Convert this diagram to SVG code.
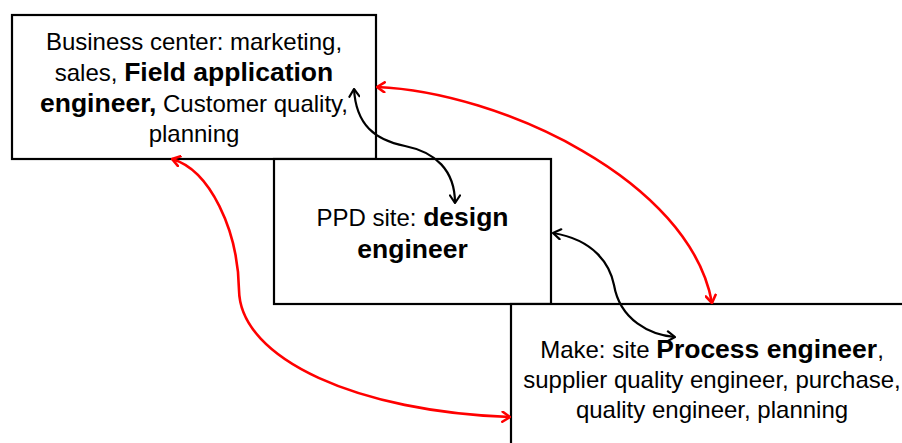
<svg xmlns="http://www.w3.org/2000/svg" width="902" height="443" viewBox="0 0 902 443">
  <style>
    .box { fill: #ffffff; stroke: #000000; stroke-width: 2.2; }
    .label { font-family: "Liberation Sans", Arial, sans-serif; font-size: 24px; fill: #000000; text-anchor: middle; }
    .b { font-weight: bold; font-size: 26.5px; }
    .link { fill: none; }
    .black { stroke: #000000; stroke-width: 2.2; marker-start: url(#headK); marker-end: url(#headK); }
    .red { stroke: #ff0000; stroke-width: 2.6; marker-start: url(#headR); marker-end: url(#headR); }
  </style>
  <defs>
    <marker id="headK" viewBox="0 0 10 12" refX="9" refY="6" markerWidth="10" markerHeight="12" markerUnits="userSpaceOnUse" orient="auto-start-reverse">
      <path d="M1.5,1 L9,6 L1.5,11" fill="none" stroke="#000000" stroke-width="2.2" stroke-linecap="round" stroke-linejoin="round"/>
    </marker>
    <marker id="headR" viewBox="0 0 10 12" refX="9" refY="6" markerWidth="10" markerHeight="12" markerUnits="userSpaceOnUse" orient="auto-start-reverse">
      <path d="M1.5,1 L9,6 L1.5,11" fill="none" stroke="#ff0000" stroke-width="2.6" stroke-linecap="round" stroke-linejoin="round"/>
    </marker>
  </defs>

  <!-- Business center -->
  <g id="business-center">
    <rect class="box" x="12" y="15" width="364" height="144"/>
    <text class="label"><tspan x="194" y="50">Business center: marketing,</tspan><tspan x="194" y="81">sales, <tspan class="b">Field application</tspan></tspan><tspan x="194" y="112"><tspan class="b">engineer,</tspan> Customer quality,</tspan><tspan x="194" y="142">planning</tspan></text>
  </g>

  <!-- PPD site -->
  <g id="ppd-site">
    <rect class="box" x="274" y="159" width="277" height="145"/>
    <text class="label"><tspan x="412.5" y="226">PPD site: <tspan class="b">design</tspan></tspan><tspan x="412.5" y="258" class="b">engineer</tspan></text>
  </g>

  <!-- Make site -->
  <g id="make-site">
    <rect class="box" x="511" y="304" width="420" height="160"/>
    <text class="label"><tspan x="712" y="358">Make: site <tspan class="b">Process engineer</tspan>,</tspan><tspan x="712" y="388">supplier quality engineer, purchase,</tspan><tspan x="712" y="418">quality engineer, planning</tspan></text>
  </g>

  <!-- Two-way links -->
  <g id="connectors">
    <path class="link black" d="M354,89 C356,125 375,140 405,146 C435,152 455,170 455,203"/>
    <path class="link black" d="M553,233 C595,240 610,265 614,285 C620,320 650,335 675,337"/>
    <path class="link red" d="M377,87 C500,92 690,180 712,303"/>
    <path class="link red" d="M172,159 C210,170 238,230 239,290 C240,360 360,412 510,417"/>
  </g>
</svg>
